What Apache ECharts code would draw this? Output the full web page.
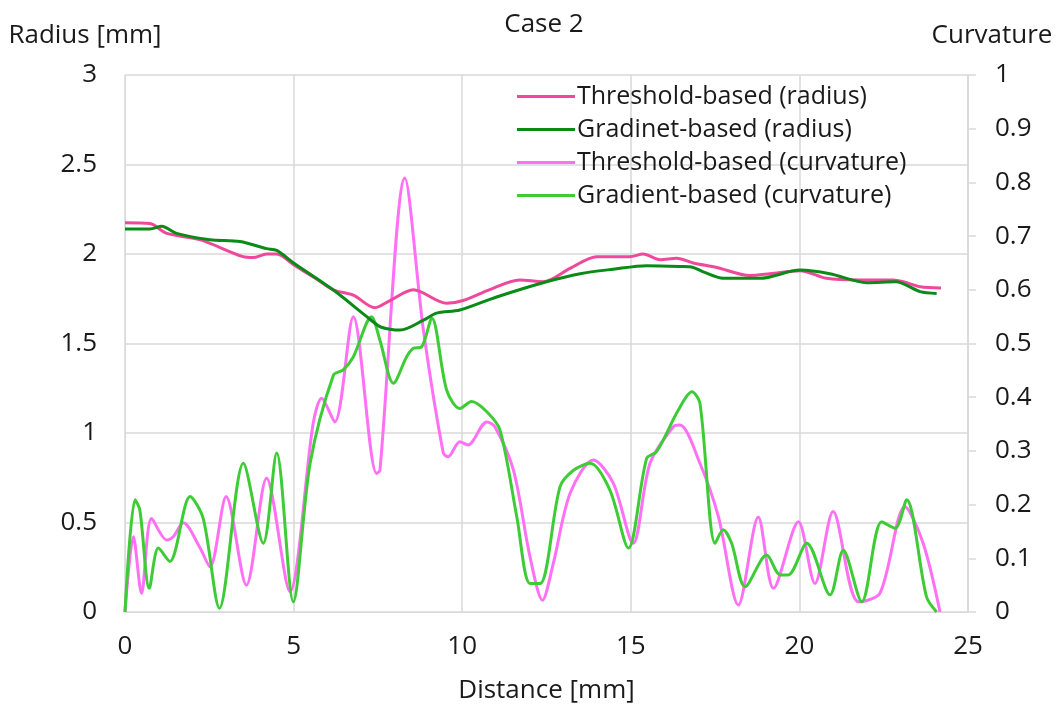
<!DOCTYPE html>
<html>
<head>
<meta charset="utf-8">
<script src="https://cdn.jsdelivr.net/npm/echarts@6/dist/echarts.min.js"></script>
<style>
    html, body { margin: 0; padding: 0; background: #fff; }
    #chart { width: 1057px; height: 713px; }
</style>
</head>
<body>
<div id="chart"></div>
<script>
    // radius curves, [distance mm, radius mm]
    let thresholdRadius = [
        [0, 2.175], [0.74, 2.17], [1.24, 2.115], [2.22, 2.08], [3.5, 1.985], [3.8, 1.98],
        [4.2, 2.0], [4.5, 2.0], [5.0, 1.94], [5.68, 1.86], [6.17, 1.8], [6.77, 1.77],
        [7.41, 1.70], [7.86, 1.74], [8.55, 1.80], [9.54, 1.725], [10.03, 1.74], [10.8, 1.80],
        [11.7, 1.855], [12.4, 1.845], [13.2, 1.92], [13.99, 1.985], [14.97, 1.985], [15.37, 2.0],
        [15.87, 1.968], [16.36, 1.976], [16.85, 1.95], [17.55, 1.925], [18.53, 1.88], [19.13, 1.89],
        [20.02, 1.907], [20.8, 1.864], [21.8, 1.855], [22.78, 1.855], [23.08, 1.845], [23.58, 1.817],
        [24.2, 1.81]
    ];
    let gradientRadius = [
        [0, 2.14], [0.74, 2.14], [1.09, 2.155], [1.53, 2.115], [2.52, 2.08], [3.41, 2.07],
        [4.2, 2.03], [4.5, 2.02], [5.0, 1.95], [6.17, 1.80], [7.17, 1.65], [7.56, 1.594],
        [7.86, 1.58], [8.16, 1.575], [8.85, 1.63], [9.24, 1.67], [9.93, 1.687], [11.02, 1.76],
        [12.5, 1.845], [13.5, 1.89], [14.48, 1.915], [15.47, 1.935], [16.46, 1.93], [16.85, 1.925],
        [17.15, 1.90], [17.74, 1.864], [18.83, 1.864], [20.02, 1.91], [20.9, 1.89], [22.0, 1.84],
        [22.86, 1.845], [23.58, 1.79], [24.07, 1.78]
    ];
    // curvature curves, [distance mm, curvature]
    let thresholdCurv = [
        [0, 0.0], [0.25, 0.14], [0.49, 0.035], [0.79, 0.174], [1.24, 0.134], [1.43, 0.14],
        [1.73, 0.166], [2.22, 0.12], [2.52, 0.084], [3.0, 0.215], [3.6, 0.05], [4.2, 0.249],
        [4.89, 0.038], [5.58, 0.351], [5.83, 0.398], [6.22, 0.354], [6.77, 0.55], [7.46, 0.258],
        [7.56, 0.264], [8.3, 0.808], [8.85, 0.525], [9.44, 0.296], [9.58, 0.289], [9.93, 0.317],
        [10.17, 0.311], [10.73, 0.354], [10.97, 0.345], [11.52, 0.264], [12.01, 0.103], [12.38, 0.022],
        [12.7, 0.09], [13.2, 0.221], [13.89, 0.283], [14.48, 0.24], [15.07, 0.128], [15.57, 0.277],
        [16.26, 0.345], [16.46, 0.348], [17.05, 0.277], [17.6, 0.177], [18.19, 0.013], [18.78, 0.177],
        [19.23, 0.044], [19.97, 0.168], [20.46, 0.053], [21.0, 0.187], [21.75, 0.019], [22.39, 0.035],
        [23.13, 0.196], [23.67, 0.128], [24.17, 0.0]
    ];
    let gradientCurv = [
        [0, 0.0], [0.3, 0.209], [0.44, 0.19], [0.72, 0.044], [0.99, 0.119], [1.33, 0.094],
        [1.93, 0.215], [2.32, 0.174], [2.8, 0.007], [3.51, 0.277], [4.1, 0.128], [4.5, 0.296],
        [4.99, 0.019], [5.49, 0.277], [6.18, 0.441], [6.47, 0.451], [6.77, 0.475], [7.31, 0.55],
        [7.56, 0.506], [7.96, 0.426], [8.35, 0.475], [8.55, 0.491], [8.8, 0.494], [9.1, 0.547],
        [9.54, 0.413], [9.93, 0.379], [10.28, 0.392], [10.73, 0.373], [11.12, 0.339], [11.62, 0.177],
        [12.01, 0.053], [12.31, 0.053], [12.9, 0.233], [13.3, 0.264], [13.79, 0.277], [14.38, 0.227],
        [14.93, 0.119], [15.47, 0.286], [15.77, 0.299], [16.41, 0.376], [16.81, 0.41], [17.05, 0.389],
        [17.5, 0.128], [17.74, 0.153], [17.99, 0.128], [18.39, 0.047], [19.03, 0.106], [19.43, 0.069],
        [19.67, 0.069], [20.22, 0.128], [20.91, 0.032], [21.3, 0.115], [21.85, 0.019], [22.44, 0.168],
        [22.84, 0.156], [23.18, 0.209], [23.77, 0.028], [24.07, 0.0]
    ];
    let seriesNames = [
        'Threshold-based (radius)',
        'Gradinet-based (radius)',
        'Threshold-based (curvature)',
        'Gradient-based (curvature)'
    ];
    let seriesColors = ['#f0489a', '#0a8a16', '#ff70f5', '#3dcc36'];

    let font = '"Open Sans", "Noto Sans", sans-serif';
    let textColor = '#1a1a1a';
    let gridColor = '#d9d9d9';

    let chart = echarts.init(document.getElementById('chart'));
    let seriesData = [thresholdRadius, gradientRadius, thresholdCurv, gradientCurv];

    let titleStyle = { fontSize: 26, fontWeight: 'normal', color: textColor, fontFamily: font };

    let option = {
        animation: false,
        backgroundColor: '#fff',
        textStyle: { fontFamily: font },
        title: [
            { text: 'Case 2', left: 539, top: 7, textAlign: 'center', textStyle: titleStyle },
            { text: 'Radius [mm]', left: 80, top: 18, textAlign: 'center', textStyle: titleStyle },
            { text: 'Curvature', left: 987, top: 18, textAlign: 'center', textStyle: titleStyle }
        ],
        legend: {
            orient: 'vertical',
            left: 512,
            top: 79,
            itemGap: 8,
            itemWidth: 58,
            itemHeight: 24,
            icon: 'path://M0,10 L58,10 L58,13 L0,13 Z',
            textStyle: { fontSize: 25, lineHeight: 24, color: textColor, fontFamily: font, padding: [0, 0, 0, -3] },
            data: seriesNames
        },
        grid: { left: 125, right: 89, top: 75, bottom: 101 },
        xAxis: {
            type: 'value',
            min: 0, max: 25, interval: 5,
            name: 'Distance [mm]',
            nameLocation: 'middle',
            nameGap: 66,
            nameTextStyle: { fontSize: 26, color: textColor },
            axisLine: { show: true, lineStyle: { color: gridColor } },
            axisTick: { show: false },
            axisLabel: { fontSize: 26, color: textColor, margin: 22 },
            splitLine: { show: true, lineStyle: { color: gridColor, width: 1.5 } }
        },
        yAxis: [
            {
                type: 'value',
                min: 0, max: 3, interval: 0.5,
                position: 'left',
                axisLine: { show: true, lineStyle: { color: gridColor } },
                axisTick: { show: false },
                axisLabel: { fontSize: 26, color: textColor, margin: 28 },
                splitLine: { show: true, lineStyle: { color: gridColor, width: 1.5 } }
            },
            {
                type: 'value',
                min: 0, max: 1, interval: 0.1,
                position: 'right',
                axisLine: { show: true, lineStyle: { color: gridColor, width: 1.5 } },
                axisTick: { show: true, inside: false, length: 8, lineStyle: { color: gridColor, width: 1.5 } },
                axisLabel: { fontSize: 26, color: textColor, margin: 27 },
                splitLine: { show: false }
            }
        ],
        series: seriesData.map(function (d, i) {
            return {
                name: seriesNames[i],
                type: 'line',
                yAxisIndex: i < 2 ? 0 : 1,
                data: d,
                smooth: 0.3,
                showSymbol: false,
                symbol: 'none',
                z: i < 2 ? 3 : 2,
                lineStyle: { color: seriesColors[i], width: 3 },
                itemStyle: { color: seriesColors[i] }
            };
        })
    };
    chart.setOption(option);
    window.onresize = () => {
        chart.resize();
    };
</script>
</body>
</html>
